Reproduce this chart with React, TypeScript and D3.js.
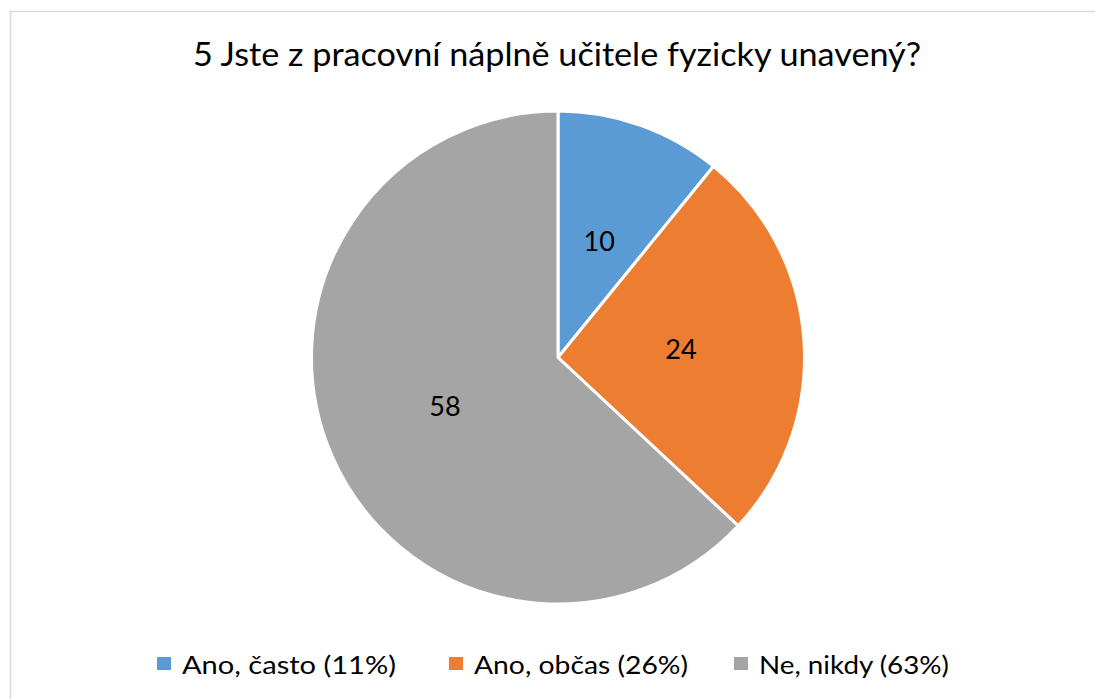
import React from "react";
import * as d3 from "d3";

const title = "5 Jste z pracovní náplně učitele fyzicky unavený?";
const categories = ["Ano, často", "Ano, občas", "Ne, nikdy"];
const values = [10, 24, 58];
const percents = ["11%", "26%", "63%"];
const colors = ["#5B9BD5", "#ED7D31", "#A5A5A5"];

const W = 1095;
const H = 699;
const cx = 558;
const cy = 357.5;
const R = 246.5;
const FONT = "Lato, 'Open Sans', sans-serif";

// legend layout (item x positions of swatches, text lengths)
const legendX = [157, 449, 734];
const legendTextLen = [214, 214, 190];

export default function App() {
  const pie = d3.pie<number>().sort(null).value((d) => d);
  const arcs = pie(values);
  const arcGen = d3.arc<d3.PieArcDatum<number>>().innerRadius(0).outerRadius(R);
  const labelArc = d3.arc<d3.PieArcDatum<number>>().innerRadius(0).outerRadius(R);

  return (
    <svg
      width={W}
      height={H}
      style={{ position: "absolute", left: 0, top: 0, background: "#fff" }}
    >
      <rect x={0} y={0} width={W} height={H} fill="#fff" />
      <rect x={10.5} y={11.5} width={W + 20} height={H + 20} fill="#fff" stroke="#D9D9D9" strokeWidth={1.5} />
      <text
        x={557}
        y={66}
        textAnchor="middle"
        fontFamily={FONT}
        fontSize={33}
        fill="#000"
        textLength={728}
        lengthAdjust="spacingAndGlyphs"
      >
        {title}
      </text>
      <g transform={`translate(${cx},${cy})`}>
        {arcs.map((a, i) => (
          <path key={i} d={arcGen(a) || ""} fill={colors[i]} stroke="#fff" strokeWidth={3} strokeLinejoin="round" />
        ))}
        {arcs.map((a, i) => {
          const [lx, ly] = labelArc.centroid(a);
          return (
            <text
              key={"l" + i}
              x={lx}
              y={ly}
              dy="0.36em"
              textAnchor="middle"
              fontFamily={FONT}
              fontSize={27}
              fill="#000"
            >
              {values[i]}
            </text>
          );
        })}
      </g>
      <g>
        {categories.map((c, i) => (
          <g key={"lg" + i}>
            <rect x={legendX[i]} y={657} width={14} height={13} fill={colors[i]} />
            <text
              x={legendX[i] + 25}
              y={674}
              fontFamily={FONT}
              fontSize={25}
              fill="#000"
              textLength={legendTextLen[i]}
              lengthAdjust="spacingAndGlyphs"
            >
              {`${c} (${percents[i]})`}
            </text>
          </g>
        ))}
      </g>
    </svg>
  );
}
